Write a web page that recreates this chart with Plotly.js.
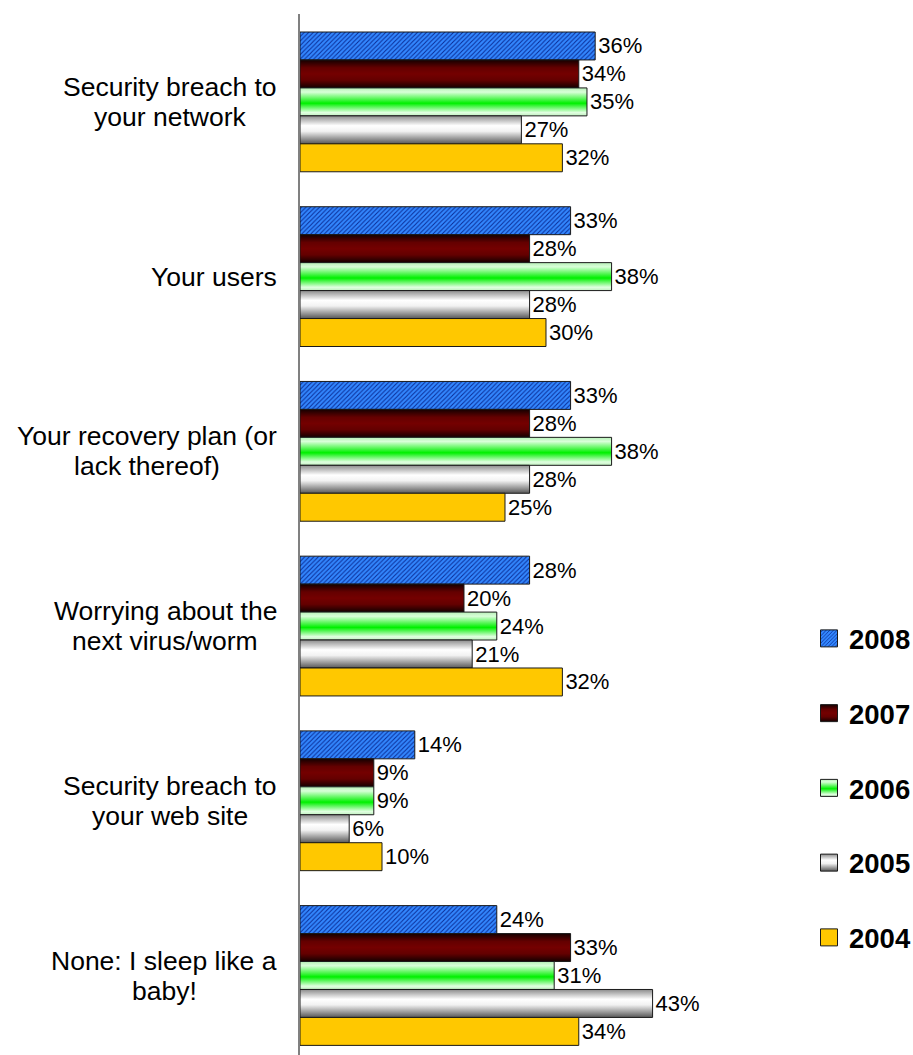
<!DOCTYPE html>
<html>
<head>
<meta charset="utf-8">
<script src="https://cdn.plot.ly/plotly-3.0.1.min.js"></script>
<style>
  html, body { margin: 0; padding: 0; background: #fff; }
  #chart { width: 913px; height: 1055px; }
</style>
</head>
<body>
<svg width="0" height="0" style="position:absolute">
  <defs>
    <linearGradient id="grad2007" x1="0" y1="0" x2="0" y2="1">
      <stop offset="0" stop-color="#140000"/>
      <stop offset="0.28" stop-color="#640000"/>
      <stop offset="0.5" stop-color="#740000"/>
      <stop offset="0.72" stop-color="#640000"/>
      <stop offset="1" stop-color="#140000"/>
    </linearGradient>
    <linearGradient id="grad2006" x1="0" y1="0" x2="0" y2="1">
      <stop offset="0" stop-color="#b8f0b8"/>
      <stop offset="0.15" stop-color="#d8ffd8"/>
      <stop offset="0.55" stop-color="#00f000"/>
      <stop offset="0.88" stop-color="#e0ffe0"/>
      <stop offset="1" stop-color="#c0f0c0"/>
    </linearGradient>
    <linearGradient id="grad2005" x1="0" y1="0" x2="0" y2="1">
      <stop offset="0" stop-color="#8c8c8c"/>
      <stop offset="0.35" stop-color="#ffffff"/>
      <stop offset="0.55" stop-color="#f2f2f2"/>
      <stop offset="1" stop-color="#585858"/>
    </linearGradient>
  </defs>
</svg>
<div id="chart"></div>
<script>
const categories = [
  "Security breach to<br>your network",
  "Your users",
  "Your recovery plan (or<br>lack thereof)",
  "Worrying about the<br>next virus/worm",
  "Security breach to<br>your web site",
  "None: I sleep like a<br>baby!"
];
const years = ["2008", "2007", "2006", "2005", "2004"];
const values2008 = [36, 33, 33, 28, 14, 24];
const values2007 = [34, 28, 28, 20, 9, 33];
const values2006 = [35, 38, 38, 24, 9, 31];
const values2005 = [27, 28, 28, 21, 6, 43];
const values2004 = [32, 30, 25, 32, 10, 34];

const seriesValues = [values2008, values2007, values2006, values2005, values2004];
const baseColors = ["#2a80ff", "#6e0000", "#33f033", "#d8d8d8", "#ffc800"];
const gradientIds = [null, "grad2007", "grad2006", "grad2005", null];

const FONT = 'Arial, "Liberation Sans", sans-serif';
const CAT_SIZE = 26.5;
const LINE_GAP = 30;

const W = 913, H = 1055;
const M = { l: 300, r: 133, t: 14, b: 0 };
const plotW = W - M.l - M.r;

const data = years.map((yr, i) => {
  const marker = {
    color: baseColors[i],
    line: { color: "#1a1a1a", width: 1 }
  };
  if (i === 0) {
    marker.pattern = {
      shape: "/",
      bgcolor: "#3388ff",
      fgcolor: "#0a2c96",
      size: 3.2,
      solidity: 0.32,
      fillmode: "replace"
    };
  }
  return {
    type: "bar",
    orientation: "h",
    name: yr,
    legendgroup: "g" + yr,
    y: categories,
    x: seriesValues[i],
    text: seriesValues[i].map(v => v + "%"),
    textposition: "outside",
    constraintext: "none",
    cliponaxis: false,
    textfont: { family: FONT, size: 22, color: "#000" },
    marker: marker,
    hoverinfo: "skip"
  };
});

// category labels: centred lines, block right-aligned next to the axis
const canvas = document.createElement("canvas");
const ctx = canvas.getContext("2d");
ctx.font = CAT_SIZE + 'px Arial, "Liberation Sans", sans-serif';
const RIGHT_EDGE = 277; // px
const annotations = [];
categories.forEach(c => {
  const lines = c.split("<br>");
  const maxW = Math.max(...lines.map(s => ctx.measureText(s).width));
  const centerPx = RIGHT_EDGE - maxW / 2;
  const xPaper = (centerPx - M.l) / plotW;
  lines.forEach((ln, k) => {
    annotations.push({
      xref: "paper", yref: "y",
      x: xPaper, y: c,
      xanchor: "center", yanchor: "middle",
      yshift: ((lines.length - 1) / 2 - k) * LINE_GAP,
      text: ln,
      showarrow: false,
      font: { family: FONT, size: CAT_SIZE, color: "#000" }
    });
  });
});

const layout = {
  width: W,
  height: H,
  margin: { l: M.l, r: M.r, t: M.t, b: M.b, pad: 0 },
  paper_bgcolor: "#fff",
  plot_bgcolor: "#fff",
  barmode: "group",
  bargap: 0.2,
  bargroupgap: 0,
  showlegend: true,
  font: { family: FONT, color: "#000" },
  xaxis: {
    range: [0, 58.54],
    showgrid: false, zeroline: false, showline: false,
    showticklabels: false, ticks: ""
  },
  yaxis: {
    type: "category",
    range: [5.455, -0.503],
    showgrid: false, zeroline: false,
    showline: true, linecolor: "#808080", linewidth: 2,
    showticklabels: false, ticks: ""
  },
  legend: {
    xref: "container", yref: "container",
    x: 809 / W, xanchor: "left",
    y: 1 - 614 / H, yanchor: "top",
    traceorder: "grouped",
    tracegroupgap: 36,
    bgcolor: "rgba(0,0,0,0)",
    borderwidth: 0,
    font: { family: FONT, size: 27.5, color: "#000", weight: "bold" }
  },
  annotations: annotations
};

function applyGradients(gd) {
  const traces = gd.querySelectorAll(".barlayer .trace");
  traces.forEach((t, i) => {
    const g = gradientIds[i];
    if (!g) return;
    t.querySelectorAll(".point path").forEach(p => {
      p.style.fill = "url(#" + g + ")";
    });
  });
  const legendItems = gd.querySelectorAll(".legend .traces");
  legendItems.forEach((t, i) => {
    const g = gradientIds[i];
    t.querySelectorAll(".legendpoints path").forEach(p => {
      p.setAttribute("d", "M8.5,8.5H-8.5V-8.5H8.5Z");
      if (g) p.style.fill = "url(#" + g + ")";
      p.style.stroke = "#1a1a1a";
      p.style.strokeWidth = "1px";
    });
  });
}

const gd = document.getElementById("chart");
Plotly.newPlot(gd, data, layout, { staticPlot: true, displayModeBar: false })
  .then(() => applyGradients(gd));
</script>
</body>
</html>
